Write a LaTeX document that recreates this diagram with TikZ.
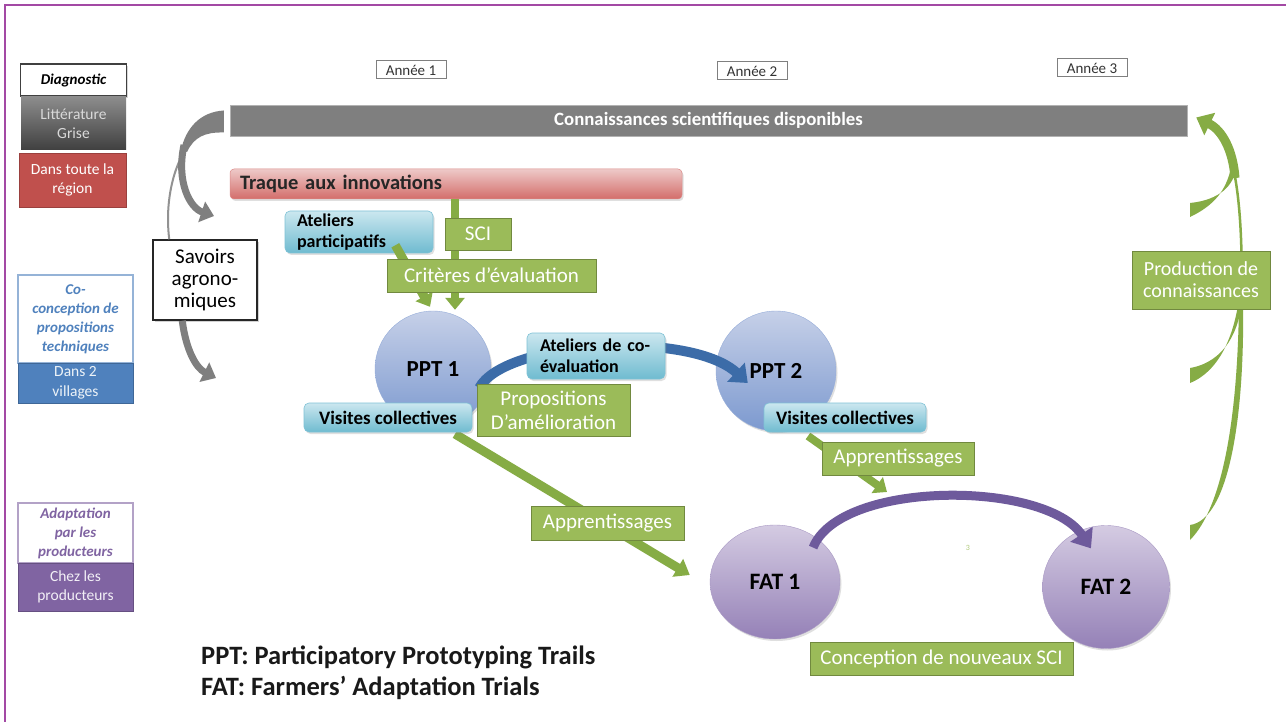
\documentclass[tikz,border=0pt]{standalone}
\usepackage{fontspec}
\setmainfont{Carlito}
\usetikzlibrary{arrows.meta,shadows,calc,shapes.geometric}
\newcommand{\fz}[2]{\fontsize{#1pt}{#2pt}\selectfont}
\definecolor{grnF}{HTML}{9BBB59}
\definecolor{grnD}{HTML}{71893F}
\definecolor{grnA}{HTML}{86AC45}
\definecolor{bluT}{HTML}{CBE7EF}
\definecolor{bluB}{HTML}{6FBBD0}
\definecolor{bluD}{HTML}{7FC2D6}
\definecolor{pptT}{HTML}{C6D0E8}
\definecolor{pptB}{HTML}{7C99CF}
\definecolor{fatT}{HTML}{D4CBE2}
\definecolor{fatB}{HTML}{9581B7}
\definecolor{redF}{HTML}{C0504D}
\definecolor{trqT}{HTML}{EEC9C8}
\definecolor{trqB}{HTML}{D36D6A}
\definecolor{bluF}{HTML}{4F81BD}
\definecolor{bluL}{HTML}{95B3D7}
\definecolor{purF}{HTML}{8064A2}
\definecolor{purL}{HTML}{B3A2C7}
\definecolor{arcB}{HTML}{3C6CA8}
\definecolor{arcP}{HTML}{6E5A9C}
\definecolor{frameC}{HTML}{A349A4}
\definecolor{gry}{HTML}{7F7F7F}
\tikzset{
  shd/.style={drop shadow={opacity=0.25,shadow xshift=1.5pt,shadow yshift=-2pt}},
  grnbox/.style={draw=grnD, line width=0.8pt, fill=grnF, text=white, inner sep=0pt, align=center, font=\fz{21}{24}},
  blubox/.style={draw=bluD, line width=0.6pt, top color=bluT, bottom color=bluB, rounded corners=5pt, inner sep=0pt, align=left, font=\bfseries\fz{18}{21}, shd},
  yearbox/.style={draw=gry, line width=1pt, fill=white, inner sep=0pt, minimum width=70pt, minimum height=18pt, font=\fz{15}{16}, text=black!80},
  leftbox/.style={inner sep=0pt, align=center, font=\fz{15.5}{19.5}},
  pptc/.style={circle, top color=pptT, bottom color=pptB, draw=pptB!80!white, line width=0.4pt, inner sep=0pt, font=\bfseries\fz{23}{25}, shd},
  fatc/.style={ellipse, top color=fatT, bottom color=fatB, draw=fatB!80!white, line width=0.4pt, inner sep=0pt, font=\bfseries\fz{23.5}{25}, shd},
  garrow/.style={grnA, line width=8pt, -{Triangle[length=12pt,width=19pt]}},
}
\begin{document}
\begin{tikzpicture}[x=1pt,y=-1pt]
\useasboundingbox (0,0) rectangle (1286,722);
\fill[white] (0,0) rectangle (1286,722);
\draw[frameC, line width=2.5pt] (5,722) -- (5,5) -- (1286,5);

% year labels
\node[yearbox] (y1) at (411,70) {Année 1};
\node[yearbox] (y2) at (752,71) {Année 2};
\node[yearbox] (y3) at (1092,68) {Année 3};

% left panel
\node[leftbox, draw=black!75, line width=1.6pt, fill=white, minimum width=106pt, minimum height=32pt, font=\bfseries\itshape\fz{15}{17}, drop shadow={opacity=0.3,shadow xshift=1.5pt,shadow yshift=-2pt}] (diag) at (73.5,80) {Diagnostic};
\node[leftbox, top color=black!45, bottom color=black!75, minimum width=105pt, minimum height=53pt, text=black!15] (lit) at (73.5,123.5) {Littérature\\Grise};
\node[leftbox, fill=redF, draw=redF!80!black, minimum width=107pt, minimum height=54pt, text=white] (reg) at (72.5,180) {Dans toute la\\région};
\node[leftbox, fill=white, draw=bluL, line width=1.2pt, minimum width=115pt, minimum height=88pt, text=bluF, font=\bfseries\itshape\fz{15}{19}] (coc) at (75.5,319) {Co-\\conception de\\propositions\\techniques};
\node[leftbox, fill=bluF, draw=bluF!80!black, minimum width=115pt, minimum height=40pt, text=white!90!bluF] (vil) at (75.5,383) {Dans 2\\villages};
\node[leftbox, fill=white, draw=purL, line width=1.2pt, minimum width=115pt, minimum height=60pt, text=purF, font=\bfseries\itshape\fz{15}{19}] (adp) at (75.5,533) {Adaptation\\par les\\producteurs};
\node[leftbox, fill=purF, draw=purF!80!black, minimum width=115pt, minimum height=48pt, text=white!90!purF] (chz) at (75.5,587) {Chez les\\producteurs};

% top bars
\node[fill=gry, draw=gray!60, line width=0.5pt, minimum width=957pt, minimum height=31pt, inner sep=0pt, text=white, font=\bfseries\fz{18.8}{20}] (bar) at (708.5,120.5) {Connaissances scientifiques disponibles};
\node[top color=trqT, bottom color=trqB, draw=trqB!80!white, line width=0.5pt, rounded corners=4pt, minimum width=452pt, minimum height=30pt, inner sep=0pt, text width=432pt, align=left, text=black!85, font=\bfseries\fz{20.5}{22}, shd] (traque) at (456,184) {Traque aux innovations};

% savoirs
\node[draw=black!85, line width=1.5pt, fill=white, minimum width=104pt, minimum height=80pt, inner sep=0pt, align=center, font=\fz{21}{22}, drop shadow={opacity=0.35,shadow xshift=2pt,shadow yshift=-2pt}] (sav) at (205,280) {Savoirs\\agrono-\\miques};

% gray arrows
\draw[gry!85, line width=2pt] ($(sav.north west)+(17,0)$) .. controls (163,190) and (180,130) .. ($(bar.west)+(-6,0)$);
\fill[gry] ($(bar.west)+(-6,-10)$) .. controls (200,112) and (186,128) .. (181,150) -- (187,152) .. controls (194,137) and (205,132) .. ($(bar.west)+(-6,12)$) -- cycle;
\draw[gry, line width=7pt, -{Triangle[length=13pt,width=21pt]}] (184,145) .. controls (176,182) and (190,208) .. (214,216);
\draw[gry, line width=7pt, -{Triangle[length=13pt,width=21pt]}] ($(sav.south west)+(30,0)$) .. controls (186,350) and (196,368) .. (216,378);

% circles
\node[pptc, minimum size=116pt] (ppt1) at (433,369) {PPT 1};
\node[pptc, minimum size=120pt] (ppt2) at (776,371) {PPT 2};
\node[fatc, minimum width=130pt, minimum height=114pt] (fat1) at (775,582) {FAT 1};
\node[fatc, minimum width=127pt, minimum height=123pt] (fat2) at (1106,587) {FAT 2};

% ateliers participatifs
\node[blubox, minimum width=148pt, minimum height=42pt, text width=124pt] (ap) at (359,232) {Ateliers\\participatifs};

% green arrows to PPT1
\draw[garrow] ([xshift=22pt]traque.south -| ppt1.north) -- ([xshift=22pt,yshift=1pt]ppt1.north);
\draw[garrow, line width=9pt] ($(ap.south east)+(-38,-8)$) -- ($(ppt1.north)+(-3,-4)$);

\node[grnbox, minimum width=66pt, minimum height=32pt] (sci) at (478,234) {SCI};
\node[grnbox, minimum width=209pt, minimum height=33pt] (crit) at (491.5,275.5) {Critères d’évaluation};

% blue arc
\draw[arcB, line width=10pt, -{Triangle[length=16pt,width=25pt]}] ($(ppt1.east)+(-12,19)$) .. controls (505,340) and (690,330) .. ($(ppt2.west)+(32,12)$);

\node[blubox, minimum width=138pt, minimum height=46pt, text width=112pt] (coev) at (596,356) {Ateliers de co-\\évaluation};
\node[grnbox, minimum width=153pt, minimum height=52pt] (prop) at (553.5,410) {Propositions\\D’amélioration};

% other green arrows
\draw[garrow, line width=9pt, -{Triangle[length=14pt,width=20pt]}] (455,434) -- ($(fat1.west)+(-20,-7)$);
\draw[garrow, -{Triangle[length=12pt,width=19pt]}] (808,436) -- (887,492);

\node[blubox, minimum width=168pt, minimum height=29pt, align=center, font=\bfseries\fz{19}{20}] (vc1) at (388,417.5) {Visites collectives};
\node[blubox, minimum width=162pt, minimum height=29pt, align=center, font=\bfseries\fz{19}{20}] (vc2) at (845,417.5) {Visites collectives};
\node[grnbox, minimum width=153pt, minimum height=34pt] (app1) at (607.5,523) {Apprentissages};
\node[grnbox, minimum width=152pt, minimum height=33pt] (app2) at (898,458.5) {Apprentissages};

% purple arc
\draw[arcP, line width=9pt, -{Triangle[length=17pt,width=26pt]}] ($(fat1.north east)+(-8,6)$) .. controls (840,480) and (1045,480) .. ($(fat2.north west)+(30,5)$);

\node[text=grnF!80, inner sep=0pt, font=\fz{8}{9}] (three) at (968,548) {3};
\node[grnbox, minimum width=263pt, minimum height=33pt] (conc) at (941.5,658.5) {Conception de nouveaux SCI};

% right green curved arrows
\fill[grnA] (1190,525) .. controls (1228,520) and (1245,420) .. (1243,300) -- (1239,300) .. controls (1238,420) and (1222,508) .. (1190,540) -- cycle;
\fill[grnA] (1190,368) .. controls (1225,362) and (1240,330) .. (1242,298) -- (1239,298) .. controls (1235,330) and (1222,370) .. (1190,383) -- cycle;
\draw[grnA, line width=2.5pt] (1241,300) .. controls (1243,250) and (1240,200) .. (1234,172);
\fill[grnA] (1190,203) .. controls (1220,200) and (1234,185) .. (1236,168) -- (1231,168) .. controls (1226,190) and (1215,205) .. (1190,217) -- cycle;
\draw[grnA, line width=9pt, -{Triangle[length=15pt,width=24pt]}] (1235,178) .. controls (1233,150) and (1222,130) .. ($(bar.east)+(9,-3)$);

\node[grnbox, minimum width=138pt, minimum height=58pt, font=\fz{20}{22}] (prod) at (1201,280) {Production de\\connaissances};

% legend
\node[anchor=west, inner sep=0pt, font=\bfseries\fz{26.5}{28}, text=black!90] (leg1) at (201,657) {PPT: Participatory Prototyping Trails};
\node[anchor=west, inner sep=0pt, font=\bfseries\fz{26.5}{28}, text=black!90] (leg2) at (201,688) {FAT: Farmers’ Adaptation Trials};
\end{tikzpicture}
\end{document}
